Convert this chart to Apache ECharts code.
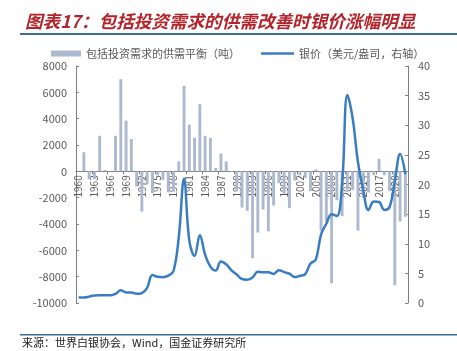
<!DOCTYPE html>
<html>
<head>
<meta charset="utf-8">
<script src="https://cdn.jsdelivr.net/npm/echarts@6/dist/echarts.min.js"></script>
<style>
  html, body { margin: 0; padding: 0; background: #fff; }
  #main { width: 457px; height: 351px; }
</style>
</head>
<body>
<div id="main"></div>
<script>
var dom = document.getElementById('main');
var myChart = echarts.init(dom);

var years = ['1960', '1961', '1962', '1963', '1964', '1965', '1966', '1967', '1968', '1969',
  '1970', '1971', '1972', '1973', '1974', '1975', '1976', '1977', '1978', '1979',
  '1980', '1981', '1982', '1983', '1984', '1985', '1986', '1987', '1988', '1989',
  '1990', '1991', '1992', '1993', '1994', '1995', '1996', '1997', '1998', '1999',
  '2000', '2001', '2002', '2003', '2004', '2005', '2006', '2007', '2008', '2009',
  '2010', '2011', '2012', '2013', '2014', '2015', '2016', '2017', '2018', '2019',
  '2020', '2021', '2022'];

// 包括投资需求的供需平衡（吨）
var balance = [0, 1450, -600, -600, 2700, 100, 0, 2700, 7000, 3850,
  2450, -1150, -3050, -1000, -1650, -300, -650, -1600, -1550, 750,
  6500, 3550, 2550, 5100, 2700, 2550, 250, 1350, 750, -50,
  -1400, -2750, -3000, -6600, -4650, -2900, -4550, -2600, -900, -1700,
  -2800, -700, -300, -500, -1500, 150, -4500, -3800, -8500, -2200,
  -3400, -1400, -1400, -4500, -2000, -1600, -300, 950, -300, -1500,
  -8650, -3800, -3450];

// 银价（美元/盎司）
var silver = [0.91, 0.92, 1.08, 1.28, 1.29, 1.29, 1.29, 1.55, 2.14, 1.79,
  1.77, 1.55, 1.68, 2.56, 4.71, 4.42, 4.35, 4.62, 5.40, 11.09,
  20.98, 10.52, 7.95, 11.44, 8.14, 6.14, 5.47, 7.01, 6.53, 5.50,
  4.82, 4.04, 3.94, 4.30, 5.29, 5.20, 5.20, 4.90, 5.54, 5.22,
  4.95, 4.37, 4.60, 4.88, 6.67, 7.32, 11.55, 13.38, 14.99, 14.67,
  20.19, 35.12, 31.15, 23.79, 19.08, 15.68, 17.14, 17.05, 15.71, 16.21,
  20.55, 25.14, 21.73];

var barName = '包括投资需求的供需平衡（吨）';
var lineName = '银价（美元/盎司，右轴）';
var cjk = '"Noto Sans CJK SC", sans-serif';
var legendText = { color: '#595959', fontSize: 11, fontFamily: cjk };

var option = {
  animation: false,
  textStyle: { fontFamily: cjk },
  title: {
    text: '图表17：包括投资需求的供需改善时银价涨幅明显',
    left: 20,
    top: 8,
    textStyle: {
      color: '#b3232a',
      fontSize: 17.6,
      fontStyle: 'italic',
      fontWeight: 'bold',
      fontFamily: cjk
    }
  },
  legend: [
    {
      left: 46, top: 43,
      itemWidth: 30, itemHeight: 6,
      icon: 'rect',
      textStyle: legendText,
      data: [barName]
    },
    {
      left: 256, top: 43,
      itemWidth: 33, itemHeight: 2.5,
      icon: 'rect',
      textStyle: legendText,
      data: [lineName]
    }
  ],
  graphic: [
    { type: 'rect', shape: { x: 20, y: 33, width: 437, height: 2 }, style: { fill: '#3a6e94' } },
    { type: 'rect', shape: { x: 20, y: 334, width: 437, height: 1.5 }, style: { fill: '#3a6e94' } },
    {
      type: 'text', left: 22, top: 337,
      style: { text: '来源：世界白银协会，Wind，国金证券研究所', fill: '#222', font: '11px "Noto Sans CJK SC"' }
    }
  ],
  grid: { left: 76, right: 49, top: 66, bottom: 48 },
  xAxis: {
    type: 'category',
    data: years,
    offset: -131.7,
    axisLine: { onZero: false, lineStyle: { color: '#808080', width: 1 } },
    axisTick: { show: true, length: 3, lineStyle: { color: '#808080' } },
    axisLabel: { interval: 2, rotate: 90, color: '#595959', fontSize: 10, margin: 4 }
  },
  yAxis: [
    {
      type: 'value',
      min: -10000, max: 8000, interval: 2000,
      splitLine: { show: false },
      axisLine: { show: true, lineStyle: { color: '#808080' } },
      axisTick: { show: true, inside: true, length: 3, lineStyle: { color: '#808080' } },
      axisLabel: {
        color: '#595959', fontSize: 11, margin: 9,
        formatter: function (v) { return String(v); }
      }
    },
    {
      type: 'value',
      min: 0, max: 40, interval: 5,
      splitLine: { show: false },
      axisLine: { show: true, lineStyle: { color: '#808080' } },
      axisTick: { show: true, inside: true, length: 3, lineStyle: { color: '#808080' } },
      axisLabel: { color: '#595959', fontSize: 11, margin: 10 }
    }
  ],
  series: [
    {
      name: barName,
      type: 'bar',
      data: balance,
      barWidth: '55%',
      itemStyle: { color: '#adb9ce' }
    },
    {
      name: lineName,
      type: 'line',
      yAxisIndex: 1,
      data: silver,
      smooth: 0.4,
      symbol: 'none',
      lineStyle: { color: '#3a7cc2', width: 2.5 },
      itemStyle: { color: '#3a7cc2' }
    }
  ]
};

if (option && typeof option === 'object') {
  myChart.setOption(option);
}
</script>
</body>
</html>
